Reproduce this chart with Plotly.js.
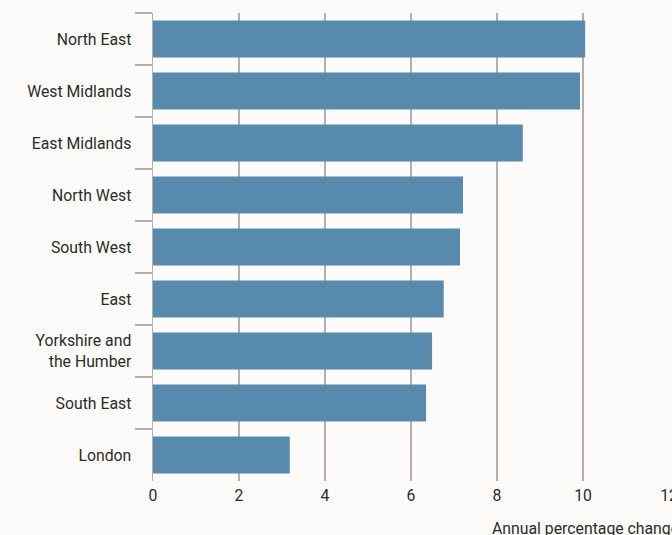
<!DOCTYPE html>
<html>
<head>
<meta charset="utf-8">
<script src="https://cdn.plot.ly/plotly-3.0.1.min.js"></script>
<style>
html,body{margin:0;padding:0;overflow:hidden;background:#fcfbf9;}
#chart{width:700px;height:535px;}
</style>
</head>
<body>
<div id="chart"></div>
<script>
var regions = ["North East","West Midlands","East Midlands","North West","South West","East","Yorkshire and<br>the Humber","South East","London"];
var values = [10.05, 9.93, 8.60, 7.21, 7.14, 6.76, 6.49, 6.35, 3.18];
var xTicks = [0, 2, 4, 6, 8, 10, 12];
var xTitle = "Annual percentage change";

var trace = {
  type: "bar",
  orientation: "h",
  y: regions,
  x: values,
  marker: {color: "#588aad"},
  hoverinfo: "x+y"
};

var layout = {
  width: 700,
  height: 535,
  margin: {l: 153, r: 31, t: 13, b: 54},
  paper_bgcolor: "#fcfbf9",
  plot_bgcolor: "rgba(0,0,0,0)",
  font: {family: "Roboto, 'Noto Sans', sans-serif", size: 15.8, color: "#2b2b2b"},
  bargap: 0.29,
  showlegend: false,
  xaxis: {
    range: [0, 12],
    tickvals: xTicks,
    ticktext: xTicks.map(String),
    showgrid: true,
    gridcolor: "#b3b0ab",
    gridwidth: 1.5,
    zeroline: false,
    showline: false,
    ticks: "",
    ticklabelstandoff: 3,
    tickfont: {size: 15.8, color: "#2b2b2b"},
    fixedrange: true
  },
  yaxis: {
    type: "category",
    autorange: "reversed",
    showline: true,
    linecolor: "#b3b0ab",
    linewidth: 1.5,
    ticks: "outside",
    tickson: "boundaries",
    ticklen: 17,
    tickcolor: "#b3b0ab",
    tickwidth: 1.5,
    showgrid: false,
    zeroline: false,
    tickfont: {size: 15.8, color: "#2b2b2b"},
    ticklabelstandoff: 17,
    fixedrange: true
  },
  annotations: [{
    text: xTitle,
    xref: "paper", yref: "paper",
    x: (490 - 153) / 516, y: 0,
    xanchor: "left", yanchor: "top",
    yshift: -36,
    showarrow: false,
    font: {size: 15.8, color: "#2b2b2b"}
  }]
};

Plotly.newPlot("chart", [trace], layout, {displayModeBar: false, staticPlot: true});
</script>
</body>
</html>
